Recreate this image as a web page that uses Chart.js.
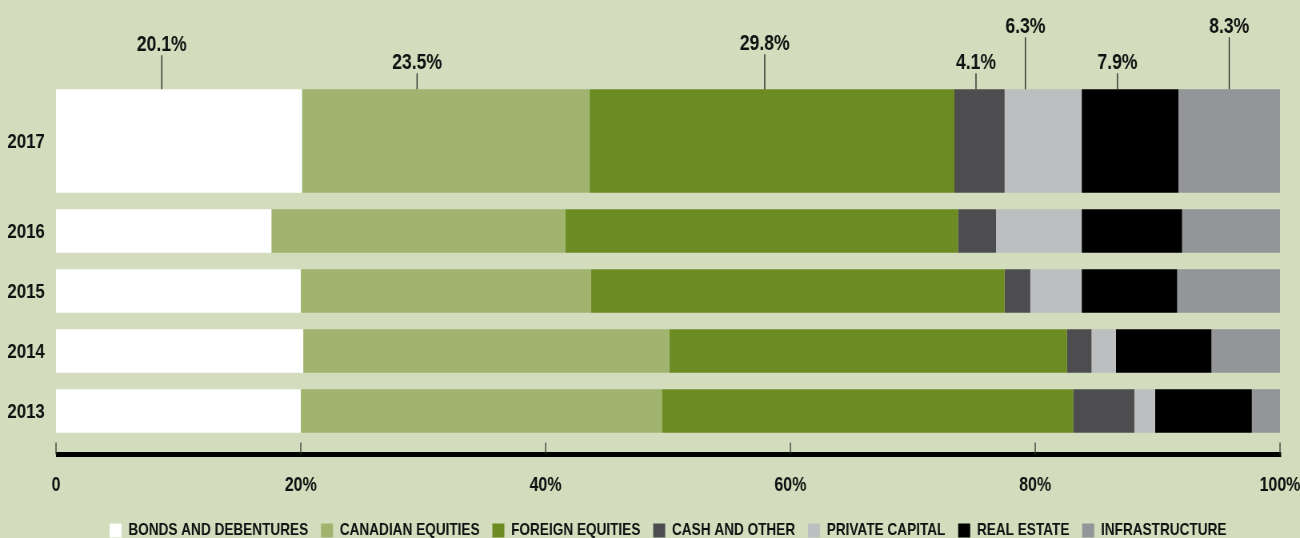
<!DOCTYPE html>
<html>
<head>
<meta charset="utf-8">
<title>Asset mix 2013-2017</title>
<script src="https://cdn.jsdelivr.net/npm/chart.js@4.4.1/dist/chart.umd.min.js"></script>
<style>
    html, body { margin: 0; padding: 0; background: #d3dcbc; overflow: hidden; }
</style>
</head>
<body>
<!-- canvas is drawn wider than shown, so the text comes out condensed -->
<canvas id="chart" width="1625" height="538" style="display:block;width:1300px;height:538px"></canvas>
<script>
// Asset mix by year, percent of total
const years = ['2017', '2016', '2015', '2014', '2013'];
const assetClasses = [
    'BONDS AND DEBENTURES',
    'CANADIAN EQUITIES',
    'FOREIGN EQUITIES',
    'CASH AND OTHER',
    'PRIVATE CAPITAL',
    'REAL ESTATE',
    'INFRASTRUCTURE'
];
const bonds            = [20.1, 17.6, 20.0, 20.2, 20.0];
const canadianEquities = [23.5, 24.0, 23.7, 29.9, 29.5];
const foreignEquities  = [29.8, 32.1, 33.8, 32.5, 33.6];
const cashOther        = [4.1, 3.1, 2.1, 2.0, 5.0];
const privateCapital   = [6.3, 7.0, 4.2, 2.0, 1.7];
const realEstate       = [7.9, 8.2, 7.8, 7.8, 7.9];
const infrastructure   = [8.3, 8.0, 8.4, 5.6, 2.3];
const xTicks = [0, 20, 40, 60, 80, 100];

const series = [bonds, canadianEquities, foreignEquities, cashOther, privateCapital, realEstate, infrastructure];
const colors = ['#ffffff', '#a1b46f', '#6c8b22', '#4d4d4f', '#bdbec0', '#000000', '#939598'];

const FONT = '"Liberation Sans Narrow", "Liberation Sans", sans-serif';
const INK = '#111111';

// where the callout line sits along each 2017 segment, and how long it is
const leaderAt = [0.43, 0.40, 0.48, 0.43, 0.27, 0.37, 0.50];
const leaderLength = [34, 16, 35, 16, 52, 16, 52];

// first year gets a taller bar, grown upward by one row
const tallFirstBar = {
    id: 'tallFirstBar',
    afterDatasetsUpdate(chart) {
        const y = chart.scales.y;
        const slot = Math.abs(y.getPixelForValue(1) - y.getPixelForValue(0));
        chart.data.datasets.forEach((ds, i) => {
            const bar = chart.getDatasetMeta(i).data[0];
            bar.y -= slot / 2;
            bar.height += slot;
        });
    }
};

// year labels, thick baseline with ticks, and the 2017 callouts
const decorations = {
    id: 'decorations',
    afterDatasetsDraw(chart) {
        const ctx = chart.ctx;
        const x = chart.scales.x;
        ctx.save();

        // year labels next to each bar
        ctx.fillStyle = INK;
        ctx.font = `bold 21px ${FONT}`;
        ctx.textAlign = 'right';
        ctx.textBaseline = 'middle';
        const firstMeta = chart.getDatasetMeta(0);
        chart.data.labels.forEach((label, i) => {
            const bar = firstMeta.data[i];
            ctx.fillText(label, x.left - 14, bar.y + 1);
        });

        // axis line
        const yLine = chart.chartArea.bottom + 13.5;
        ctx.fillStyle = '#000';
        ctx.fillRect(x.left, yLine - 2.5, x.right - x.left + 1.5, 5);
        ctx.fillStyle = '#333';
        xTicks.forEach(v => {
            const px = x.getPixelForValue(v);
            ctx.fillRect(px - 0.6, yLine - 12, 1.25, 12);
        });

        // callouts above the 2017 bar
        ctx.font = `bold 22px ${FONT}`;
        ctx.textAlign = 'center';
        ctx.textBaseline = 'alphabetic';
        chart.data.datasets.forEach((ds, i) => {
            const bar = chart.getDatasetMeta(i).data[0];
            const cx = bar.base + (bar.x - bar.base) * leaderAt[i];
            const top = bar.y - bar.height / 2;
            const lineTop = top - leaderLength[i];
            ctx.strokeStyle = '#1a1a1a';
            ctx.lineWidth = 1.25;
            ctx.beginPath();
            ctx.moveTo(cx, top);
            ctx.lineTo(cx, lineTop);
            ctx.stroke();
            ctx.fillStyle = INK;
            ctx.fillText(ds.data[0].toFixed(1) + '%', cx, lineTop - 4);
        });
        ctx.restore();
    }
};

function createChart() {
    const ctx = document.getElementById('chart').getContext('2d');

    new Chart(ctx, {
        type: 'bar',
        data: {
            labels: years,
            datasets: assetClasses.map((name, i) => ({
                label: name,
                data: series[i],
                backgroundColor: colors[i],
                borderWidth: 0,
                barPercentage: 1,
                categoryPercentage: 0.726,
                clip: false
            }))
        },
        options: {
            indexAxis: 'y',
            responsive: false,
            animation: false,
            layout: { padding: { top: 141, right: 25, left: 70, bottom: -11 } },
            scales: {
                x: {
                    stacked: true,
                    min: 0,
                    max: 100,
                    grid: { display: false, drawTicks: false },
                    border: { display: false },
                    afterBuildTicks: scale => {
                        scale.ticks = xTicks.map(v => ({ value: v }));
                    },
                    afterFit: scale => {
                        scale.height = 65;
                        scale.paddingLeft = 0;
                        scale.paddingRight = 0;
                    },
                    ticks: {
                        padding: 32,
                        color: INK,
                        font: { family: FONT, size: 20, weight: 'bold' },
                        callback: v => (v === 0 ? '0' : v + '%')
                    }
                },
                y: {
                    stacked: true,
                    grid: { display: false, drawTicks: false },
                    border: { display: false },
                    ticks: { display: false },
                    afterFit: scale => { scale.width = 0; }
                }
            },
            plugins: {
                legend: {
                    position: 'bottom',
                    labels: {
                        boxWidth: 15,
                        boxHeight: 14,
                        padding: 16,
                        color: INK,
                        font: { family: FONT, size: 17, weight: 'bold' }
                    }
                },
                tooltip: { enabled: false }
            }
        },
        plugins: [tallFirstBar, decorations]
    });
}

document.addEventListener('DOMContentLoaded', function() {
    createChart();
});
</script>
</body>
</html>
